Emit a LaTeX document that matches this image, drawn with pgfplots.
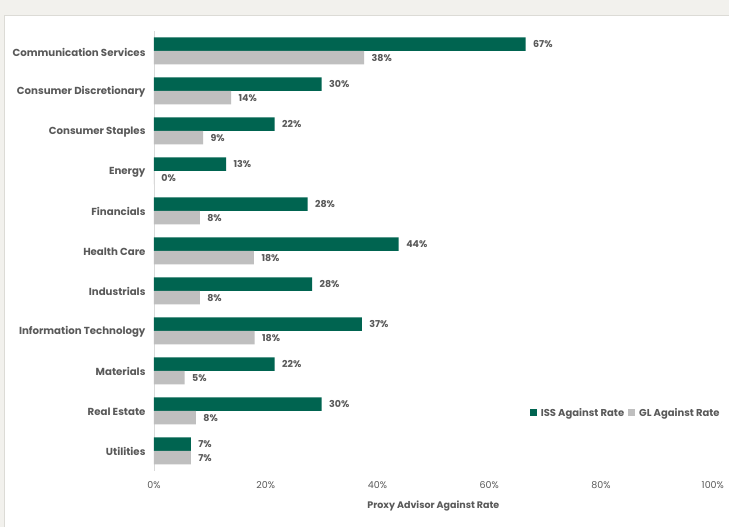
\documentclass[border=0pt]{standalone}
\usepackage{fontspec}
\setmainfont{Poppins}
\usepackage{pgfplots}
\usepackage{pgfplotstable}
\pgfplotsset{compat=1.18}
\definecolor{issgreen}{RGB}{0,100,80}
\definecolor{glgray}{RGB}{191,191,191}
\definecolor{txt}{RGB}{89,89,89}
\definecolor{bg}{RGB}{242,241,237}
\pgfplotstableread{
y iss isslab gl gllab
10 66.5 67 37.6 38
9 30 30 13.8 14
8 21.6 22 8.8 9
7 12.9 13 0 0
6 27.5 28 8.2 8
5 43.8 44 17.9 18
4 28.3 28 8.2 8
3 37.2 37 18 18
2 21.6 22 5.5 5
1 30 30 7.5 8
0 6.6 7 6.6 7
}\data
\begin{document}
\begin{tikzpicture}[x=1bp,y=1bp]
\fill[bg] (0,0) rectangle (729,527);
\fill[white] (4,0) rectangle (729,512);
\draw[color={rgb,255:red,220;green,219;blue,214}] (4,0) -- (4,512) -- (729,512);
\begin{axis}[
  at={(154bp,56bp)}, anchor=south west,
  scale only axis, width=559bp, height=440bp,
  xmin=0, xmax=100, ymin=-0.5, ymax=10.5,
  xbar, bar width=13.5bp,
  axis lines*=left,
  x axis line style={draw=none},
  y axis line style={draw={rgb,255:red,217;green,217;blue,217}},
  major tick length=0,
  /pgf/number format/assume math mode=true,
  xtick={0,20,40,60,80,100},
  xticklabel={\pgfmathprintnumber{\tick}\%},
  ytick={0,...,10},
  yticklabels={Utilities,Real Estate,Materials,Information Technology,Industrials,Health Care,Financials,Energy,Consumer Staples,Consumer Discretionary,Communication Services},
  yticklabel style={font=\bfseries\fontsize{10.2bp}{12bp}\selectfont, text=txt, xshift=-5bp, yshift=-1bp},
  xticklabel style={font=\fontsize{9.5bp}{11bp}\selectfont, text=txt, yshift=-7bp},
  xlabel={Proxy Advisor Against Rate},
  xlabel style={font=\bfseries\fontsize{9.5bp}{11bp}\selectfont, text=txt, yshift=-6bp},
  nodes near coords={\pgfplotspointmeta\%},
  nodes near coords align=horizontal,
  point meta=explicit symbolic,
  every node near coord/.append style={font=\bfseries\fontsize{9.5bp}{11bp}\selectfont, text=txt, anchor=west, xshift=4bp},
  legend columns=2,
  legend style={at={(1.016,0.132)}, anchor=east, draw=none, fill=none, font=\bfseries\fontsize{10bp}{12bp}\selectfont, text=txt, column sep=2bp, inner xsep=0pt},
  legend image code/.code={\fill[#1] (0bp,-3.5bp) rectangle (7bp,3.5bp);},
  clip=false,
]
\addplot[fill=issgreen, draw=none, bar shift=6.75bp] table[x=iss, y=y, meta=isslab] {\data};
\addlegendentry{ISS Against Rate}
\addplot[fill=glgray, draw=none, bar shift=-6.75bp] table[x=gl, y=y, meta=gllab] {\data};
\addlegendentry{GL Against Rate}
\end{axis}
\end{tikzpicture}
\end{document}
